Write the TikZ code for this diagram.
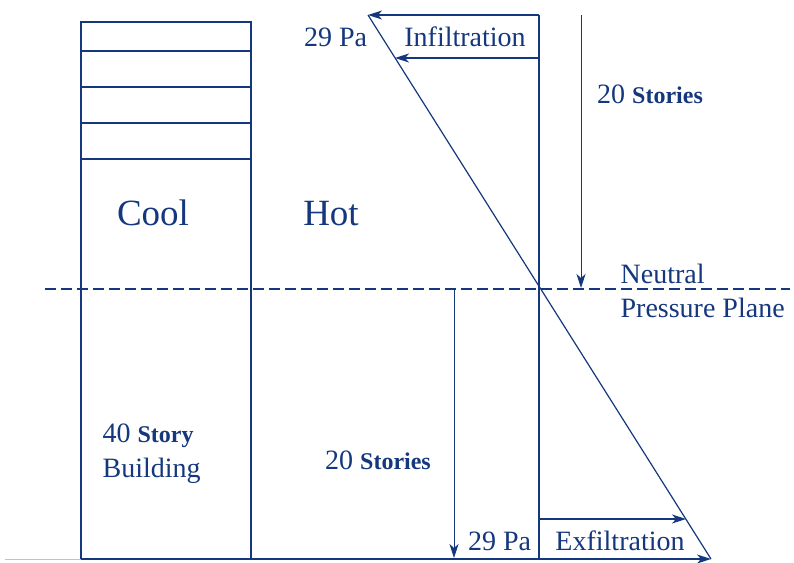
\documentclass[tikz,border=0pt]{standalone}
\usepackage{fontspec}
\setmainfont{Liberation Serif}
\usepackage{xcolor}
\usepackage{tikz}
\usetikzlibrary{arrows.meta}
\definecolor{ink}{RGB}{20,55,125}
\tikzstyle{arrow} = [line width=1.1pt,-{Stealth[length=14pt,width=9pt,inset=4pt]}]
\tikzstyle{txt} = [inner sep=0pt,anchor=base,font=\fontsize{28}{31}\selectfont]
\tikzstyle{big} = [inner sep=0pt,anchor=base,font=\fontsize{37}{40}\selectfont]
\newcommand{\bst}[1]{{\fontsize{24}{27}\selectfont\bfseries #1}}

\begin{document}
\begin{tikzpicture}[x=1pt,y=-1pt,ink,line width=1.2pt]
            \useasboundingbox (0,0) rectangle (794,562);
            % building
            \draw[line width=1.5pt] (81,22) rectangle (251,559);
            \foreach \y in {51,87,123,159}
                \draw[line width=1.5pt] (81,\y) -- (251,\y);
            \draw[ink!30,line width=1pt] (5,559) -- (81,559);
            \draw (251,559) -- (539,559);
            % neutral plane
            \draw[dash pattern=on 11pt off 5pt] (45,289) -- (790,289);
            % pressure profile
            \coordinate (ptop) at (368,15);
            \coordinate (pbot) at (711,559);
            \coordinate (vtop) at (539,15);
            \coordinate (vbot) at (539,559);
            \draw (ptop) -- (pbot);
            \draw (vtop) -- (vbot);
            \coordinate (inA) at (539,58);
            \coordinate (inB) at (395,58);
            \coordinate (exA) at (539,519);
            \coordinate (exB) at (686,519);
            \draw[arrow] (vtop) -- (ptop);
            \draw[arrow] (inA) -- (inB);
            \draw[arrow] (exA) -- (exB);
            \draw[arrow] (vbot) -- (pbot);
            % stories arrows
            \coordinate (upA) at (581,15);
            \coordinate (upB) at (581,288);
            \coordinate (loA) at (454,289);
            \coordinate (loB) at (454,558);
            \draw[arrow,line width=0.9pt] (upA) -- (upB);
            \draw[arrow,line width=0.9pt] (loA) -- (loB);
            % labels
            \node[txt] (patop) at (335.5,46) {29 Pa};
            \node[txt] (infil) at (465,46) {Infiltration};
            \node[txt] (sttop) at (650,103) {20 \bst{Stories}};
            \node[txt,anchor=base west] (neut) at (620,283) {Neutral};
            \node[txt,anchor=base west] (plane) at (620,317) {Pressure Plane};
            \node[big] (cool) at (153,225) {Cool};
            \node[big] (hot) at (331,225) {Hot};
            \node[txt,anchor=base west] (story) at (102,442) {40 \bst{Story}};
            \node[txt,anchor=base west] (bldg) at (102,477) {Building};
            \node[txt] (stlow) at (378,469) {20 \bst{Stories}};
            \node[txt] (pabot) at (499.5,550) {29 Pa};
            \node[txt] (exfil) at (620,550) {Exfiltration};
        \end{tikzpicture}
\end{document}
